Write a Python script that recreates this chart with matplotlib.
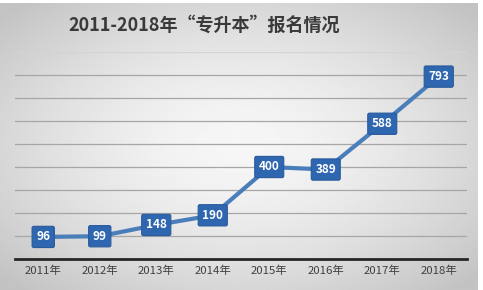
import matplotlib

matplotlib.use("Agg")
import matplotlib.pyplot as plt
import numpy as np

plt.rcParams["font.family"] = ["Noto Sans CJK SC", "DejaVu Sans"]

years = ["2011年", "2012年", "2013年", "2014年", "2015年", "2016年", "2017年", "2018年"]
applicants = [96, 99, 148, 190, 400, 389, 588, 793]
title = "2011-2018年“专升本”报名情况"

fig = plt.figure(figsize=(4.83, 2.9), dpi=100, facecolor="white")

# chart-area background: light centre fading to grey edges
bg = fig.add_axes([0, 0, 478 / 483, 287 / 290])
gx, gy = np.meshgrid(np.linspace(-1, 1, 300), np.linspace(-1, 1, 200))
r = np.clip(np.sqrt(gx ** 2 + gy ** 2) / 1.35, 0, 1)
shade = 0.965 - 0.2 * r ** 1.6
bg.imshow(shade, cmap="gray", vmin=0, vmax=1, aspect="auto", extent=[0, 1, 0, 1])
bg.set_axis_off()

ax = fig.add_axes([15 / 483, 1 - 259 / 290, 452 / 483, 207 / 290])
ax.patch.set_alpha(0)
x = np.arange(len(years))
ax.plot(x, applicants, color="#4a7ebb", lw=3, solid_capstyle="round", zorder=3)
for xi, v in zip(x, applicants):
    ax.text(xi, v, str(v), ha="center", va="center", color="white", fontsize=8.5,
            fontweight="bold", zorder=5,
            bbox=dict(boxstyle="round,pad=0.35,rounding_size=0.15", fc="#2f66b0",
                      ec="#285a9c", lw=0.8))

ax.set_xlim(-0.5, len(years) - 0.5)
ax.set_ylim(0, 900)
ax.set_yticks(np.arange(100, 801, 100))
ax.yaxis.grid(True, color="#a6a6a6", lw=0.9)
ax.axhline(900, color="#d4d4d4", lw=0.9, zorder=0)
ax.set_axisbelow(True)
ax.tick_params(axis="y", left=False, labelleft=False)
ax.set_xticks(x)
ax.set_xticklabels(years, fontsize=8.2, color="#404040")
ax.tick_params(axis="x", length=0, pad=5)
for side in ["top", "right", "left"]:
    ax.spines[side].set_visible(False)
ax.spines["bottom"].set_color("#262626")
ax.spines["bottom"].set_linewidth(2)

fig.text(68 / 483, 1 - 25 / 290, title, ha="left", va="center", fontsize=13,
         fontweight="bold", color="#3a3a3a")

fig.savefig("out.png", dpi=100)
